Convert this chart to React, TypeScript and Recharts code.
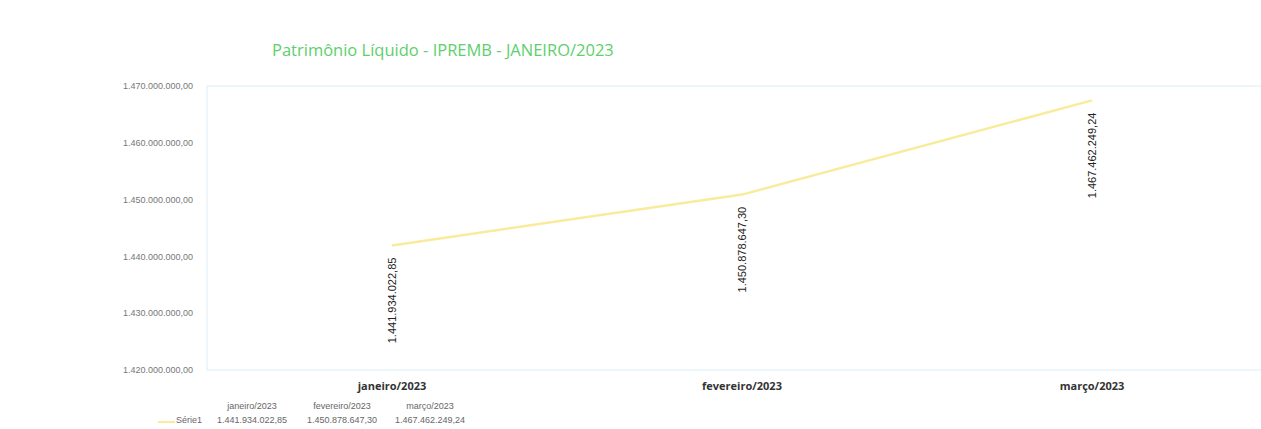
import { LineChart, Line, XAxis, YAxis, ReferenceLine } from "recharts";

const months = ["janeiro/2023", "fevereiro/2023", "março/2023"];
const serie1 = [1441934022.85, 1450878647.3, 1467462249.24];
const yTicks = [1420000000, 1430000000, 1440000000, 1450000000, 1460000000, 1470000000];
const seriesName = "Série1";
const title = "Patrimônio Líquido - IPREMB - JANEIRO/2023";

const data = months.map((m, i) => ({ month: m, value: serie1[i] }));

const lineColor = "#f9eb9c";
const frameColor = "#d8edf8";

function fmtBR(v: number) {
  const [int, dec] = v.toFixed(2).split(".");
  return int.replace(/\B(?=(\d{3})+(?!\d))/g, ".") + "," + dec;
}

function ValueLabel(props: any) {
  const { x, y, value } = props;
  const cy = y + 55;
  return (
    <text
      x={x}
      y={cy}
      transform={`rotate(-90 ${x} ${cy})`}
      textAnchor="middle"
      dominantBaseline="central"
      fontFamily="Liberation Sans"
      fontSize={11}
      fill="#222"
    >
      {fmtBR(value)}
    </text>
  );
}

export default function App() {
  const tableCols = [252, 342, 430];
  return (
    <div style={{ position: "absolute", left: 0, top: 0, width: 1261, height: 429, background: "#fff" }}>
      <div
        style={{
          position: "absolute",
          left: 272,
          top: 38,
          fontFamily: "Open Sans",
          fontSize: 16.5,
          color: "#5dcf6c",
          whiteSpace: "nowrap",
        }}
      >
        {title}
      </div>
      <LineChart width={1261} height={429} data={data} margin={{ top: 86, right: 0, bottom: 0, left: 0 }}>
        <ReferenceLine y={1470000000} stroke={frameColor} strokeWidth={1} />
        <XAxis
          dataKey="month"
          height={59}
          padding={{ left: 185, right: 169 }}
          axisLine={{ stroke: frameColor }}
          tickLine={false}
          tickMargin={6}
          tick={{ fontFamily: "Open Sans", fontSize: 11, fontWeight: 700, fill: "#333" }}
        />
        <YAxis
          width={207}
          domain={[1420000000, 1470000000]}
          ticks={yTicks}
          axisLine={{ stroke: frameColor }}
          tickLine={false}
          tickMargin={8}
          tickFormatter={(v: number) => fmtBR(v)}
          tick={{ fontFamily: "Liberation Sans Narrow, Liberation Sans", fontSize: 9, fill: "#777" }}
        />
        <Line
          type="linear"
          dataKey="value"
          stroke={lineColor}
          strokeWidth={2.5}
          dot={false}
          isAnimationActive={false}
          label={<ValueLabel />}
        />
      </LineChart>
      {months.map((m, i) => (
        <div
          key={m}
          style={{
            position: "absolute",
            left: tableCols[i] - 60,
            width: 120,
            top: 401,
            textAlign: "center",
            fontFamily: "Liberation Sans Narrow, Liberation Sans",
            fontSize: 9,
            color: "#666",
          }}
        >
          {m}
        </div>
      ))}
      <div style={{ position: "absolute", left: 158, top: 421, width: 17, height: 2, background: lineColor }} />
      <div
        style={{
          position: "absolute",
          left: 176,
          top: 415,
          fontFamily: "Liberation Sans Narrow, Liberation Sans",
          fontSize: 9,
          color: "#666",
        }}
      >
        {seriesName}
      </div>
      {serie1.map((v, i) => (
        <div
          key={i}
          style={{
            position: "absolute",
            left: tableCols[i] - 60,
            width: 120,
            top: 415,
            textAlign: "center",
            fontFamily: "Liberation Sans Narrow, Liberation Sans",
            fontSize: 9,
            color: "#666",
          }}
        >
          {fmtBR(v)}
        </div>
      ))}
    </div>
  );
}
